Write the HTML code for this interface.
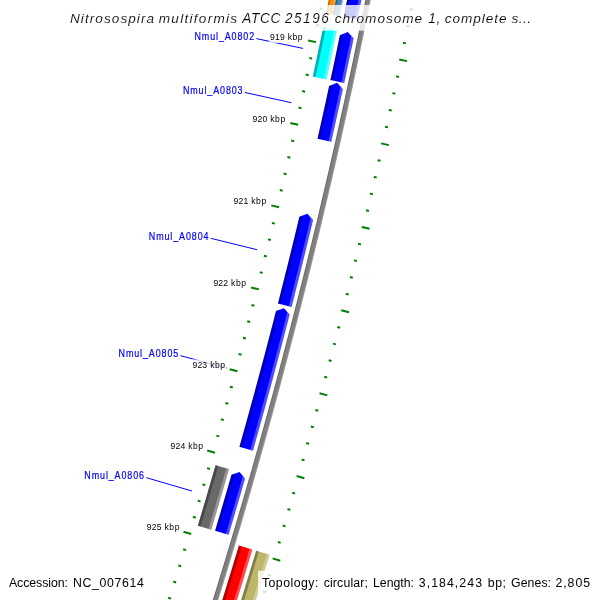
<!DOCTYPE html>
<html><head><meta charset="utf-8"><title>CGView map</title>
<style>
html,body{margin:0;padding:0;background:#fff;}
body{width:600px;height:600px;overflow:hidden;}
svg{display:block;will-change:transform;}
text{font-family:"Liberation Sans",sans-serif;}
.lab{font-size:10.4px;fill:#0000ff;stroke:#0000ff;stroke-width:0.2px;}
.tk{font-size:8.6px;fill:#000;}
.title{font-size:13.6px;font-style:italic;fill:#000;stroke:#fff;stroke-width:0.12px;}
.leg{font-size:12.3px;fill:#000;}
</style></head><body>
<svg width="600" height="600" viewBox="0 0 600 600">
<rect width="600" height="600" fill="#fff"/>
<path d="M372.06,-7.12 L370.50,0.73 L368.92,8.58 L367.34,16.42 L365.74,24.27 L364.14,32.11 L362.52,39.95 L360.90,47.78 L359.26,55.62 L357.61,63.45 L355.95,71.28 L354.29,79.11 L352.61,86.94 L350.92,94.76 L349.22,102.58 L347.51,110.40 L345.79,118.22 L344.06,126.03 L342.32,133.85 L340.57,141.66 L338.80,149.47 L337.03,157.27 L335.25,165.07 L333.46,172.87 L331.65,180.67 L329.84,188.47 L328.01,196.26 L326.18,204.05 L324.33,211.84 L322.48,219.63 L320.61,227.41 L318.74,235.19 L316.85,242.97 L314.95,250.75 L313.05,258.52 L311.13,266.29 L309.20,274.06 L307.26,281.83 L305.31,289.59 L303.35,297.35 L301.38,305.11 L299.40,312.86 L297.41,320.62 L295.41,328.37 L293.40,336.11 L291.38,343.86 L289.35,351.60 L287.31,359.34 L285.26,367.08 L283.19,374.81 L281.12,382.54 L279.04,390.27 L276.94,398.00 L274.84,405.72 L272.73,413.44 L270.60,421.16 L268.47,428.87 L266.32,436.58 L264.17,444.29 L262.00,452.00 L259.83,459.70 L257.64,467.40 L255.45,475.10 L253.24,482.79 L251.02,490.48 L248.80,498.17 L246.56,505.85 L244.31,513.54 L242.05,521.22 L239.78,528.89 L237.51,536.56 L235.22,544.23 L232.92,551.90 L230.61,559.57 L228.29,567.23 L225.96,574.88 L223.62,582.54 L221.27,590.19 L218.91,597.84 L216.54,605.48 L214.16,613.13 L211.77,620.76 L209.37,628.40 L204.41,626.84 L206.81,619.21 L209.20,611.58 L211.58,603.94 L213.95,596.30 L216.30,588.66 L218.65,581.02 L220.99,573.37 L223.32,565.72 L225.63,558.06 L227.94,550.40 L230.24,542.74 L232.52,535.08 L234.80,527.41 L237.06,519.75 L239.32,512.07 L241.57,504.40 L243.80,496.72 L246.03,489.04 L248.24,481.35 L250.45,473.67 L252.64,465.98 L254.82,458.28 L257.00,450.59 L259.16,442.89 L261.31,435.18 L263.46,427.48 L265.59,419.77 L267.71,412.06 L269.82,404.35 L271.93,396.63 L274.02,388.91 L276.10,381.19 L278.17,373.47 L280.23,365.74 L282.28,358.01 L284.32,350.28 L286.35,342.54 L288.37,334.80 L290.38,327.06 L292.38,319.32 L294.37,311.57 L296.34,303.83 L298.31,296.07 L300.27,288.32 L302.22,280.56 L304.15,272.80 L306.08,265.04 L308.00,257.28 L309.90,249.51 L311.80,241.74 L313.68,233.97 L315.56,226.20 L317.42,218.42 L319.28,210.64 L321.12,202.86 L322.95,195.07 L324.77,187.29 L326.59,179.50 L328.39,171.71 L330.18,163.91 L331.96,156.12 L333.73,148.32 L335.49,140.52 L337.24,132.71 L338.98,124.91 L340.71,117.10 L342.43,109.29 L344.14,101.48 L345.84,93.66 L347.52,85.84 L349.20,78.02 L350.87,70.20 L352.52,62.38 L354.17,54.55 L355.80,46.73 L357.43,38.89 L359.04,31.06 L360.65,23.23 L362.24,15.39 L363.82,7.55 L365.40,-0.29 L366.96,-8.13Z" fill="#808080"/>
<path d="M372.06,-7.12 L370.50,0.73 L368.92,8.58 L367.34,16.42 L365.74,24.27 L364.14,32.11 L362.52,39.95 L360.90,47.78 L359.26,55.62 L357.61,63.45 L355.95,71.28 L354.29,79.11 L352.61,86.94 L350.92,94.76 L349.22,102.58 L347.51,110.40 L345.79,118.22 L344.06,126.03 L342.32,133.85 L340.57,141.66 L338.80,149.47 L337.03,157.27 L335.25,165.07 L333.46,172.87 L331.65,180.67 L329.84,188.47 L328.01,196.26 L326.18,204.05 L324.33,211.84 L322.48,219.63 L320.61,227.41 L318.74,235.19 L316.85,242.97 L314.95,250.75 L313.05,258.52 L311.13,266.29 L309.20,274.06 L307.26,281.83 L305.31,289.59 L303.35,297.35 L301.38,305.11 L299.40,312.86 L297.41,320.62 L295.41,328.37 L293.40,336.11 L291.38,343.86 L289.35,351.60 L287.31,359.34 L285.26,367.08 L283.19,374.81 L281.12,382.54 L279.04,390.27 L276.94,398.00 L274.84,405.72 L272.73,413.44 L270.60,421.16 L268.47,428.87 L266.32,436.58 L264.17,444.29 L262.00,452.00 L259.83,459.70 L257.64,467.40 L255.45,475.10 L253.24,482.79 L251.02,490.48 L248.80,498.17 L246.56,505.85 L244.31,513.54 L242.05,521.22 L239.78,528.89 L237.51,536.56 L235.22,544.23 L232.92,551.90 L230.61,559.57 L228.29,567.23 L225.96,574.88 L223.62,582.54 L221.27,590.19 L218.91,597.84 L216.54,605.48 L214.16,613.13 L211.77,620.76 L209.37,628.40 L208.42,628.10 L210.82,620.47 L213.21,612.83 L215.59,605.19 L217.96,597.54 L220.32,589.90 L222.67,582.25 L225.01,574.59 L227.33,566.94 L229.65,559.28 L231.96,551.61 L234.26,543.95 L236.55,536.28 L238.83,528.61 L241.09,520.93 L243.35,513.25 L245.60,505.57 L247.83,497.89 L250.06,490.20 L252.28,482.51 L254.48,474.82 L256.68,467.12 L258.87,459.43 L261.04,451.72 L263.21,444.02 L265.36,436.31 L267.50,428.60 L269.64,420.89 L271.76,413.17 L273.88,405.46 L275.98,397.73 L278.07,390.01 L280.16,382.28 L282.23,374.55 L284.29,366.82 L286.34,359.08 L288.38,351.35 L290.41,343.61 L292.44,335.86 L294.45,328.12 L296.45,320.37 L298.44,312.62 L300.42,304.86 L302.38,297.11 L304.34,289.35 L306.29,281.58 L308.23,273.82 L310.16,266.05 L312.07,258.28 L313.98,250.51 L315.88,242.74 L317.76,234.96 L319.64,227.18 L321.51,219.40 L323.36,211.61 L325.21,203.82 L327.04,196.03 L328.86,188.24 L330.68,180.45 L332.48,172.65 L334.27,164.85 L336.06,157.05 L337.83,149.24 L339.59,141.44 L341.34,133.63 L343.08,125.82 L344.81,118.00 L346.53,110.19 L348.24,102.37 L349.94,94.55 L351.63,86.73 L353.31,78.90 L354.98,71.08 L356.63,63.25 L358.28,55.41 L359.92,47.58 L361.54,39.75 L363.16,31.91 L364.76,24.07 L366.36,16.22 L367.94,8.38 L369.52,0.53 L371.08,-7.31Z" fill="#fff" fill-opacity="0.2"/>
<path d="M367.84,-7.96 L366.28,-0.11 L364.71,7.73 L363.12,15.57 L361.53,23.41 L359.93,31.24 L358.31,39.08 L356.69,46.91 L355.05,54.74 L353.40,62.57 L351.75,70.39 L350.08,78.21 L348.40,86.03 L346.72,93.85 L345.02,101.67 L343.31,109.48 L341.59,117.29 L339.86,125.10 L338.12,132.91 L336.37,140.71 L334.61,148.52 L332.84,156.32 L331.06,164.11 L329.27,171.91 L327.46,179.70 L325.65,187.49 L323.83,195.28 L321.99,203.06 L320.15,210.85 L318.30,218.63 L316.43,226.41 L314.56,234.18 L312.67,241.96 L310.78,249.73 L308.87,257.49 L306.95,265.26 L305.03,273.02 L303.09,280.78 L301.14,288.54 L299.19,296.30 L297.22,304.05 L295.24,311.80 L293.25,319.54 L291.25,327.29 L289.24,335.03 L287.22,342.77 L285.19,350.51 L283.15,358.24 L281.10,365.97 L279.04,373.70 L276.97,381.43 L274.89,389.15 L272.80,396.87 L270.69,404.59 L268.58,412.30 L266.46,420.01 L264.32,427.72 L262.18,435.43 L260.03,443.13 L257.86,450.83 L255.69,458.53 L253.51,466.22 L251.31,473.91 L249.11,481.60 L246.89,489.29 L244.67,496.97 L242.43,504.65 L240.18,512.33 L237.93,520.00 L235.66,527.67 L233.39,535.34 L231.10,543.00 L228.80,550.66 L226.49,558.32 L224.18,565.98 L221.85,573.63 L219.51,581.28 L217.16,588.92 L214.81,596.57 L212.44,604.21 L210.06,611.84 L207.67,619.48 L205.27,627.11 L204.41,626.84 L206.81,619.21 L209.20,611.58 L211.58,603.94 L213.95,596.30 L216.30,588.66 L218.65,581.02 L220.99,573.37 L223.32,565.72 L225.63,558.06 L227.94,550.40 L230.24,542.74 L232.52,535.08 L234.80,527.41 L237.06,519.75 L239.32,512.07 L241.57,504.40 L243.80,496.72 L246.03,489.04 L248.24,481.35 L250.45,473.67 L252.64,465.98 L254.82,458.28 L257.00,450.59 L259.16,442.89 L261.31,435.18 L263.46,427.48 L265.59,419.77 L267.71,412.06 L269.82,404.35 L271.93,396.63 L274.02,388.91 L276.10,381.19 L278.17,373.47 L280.23,365.74 L282.28,358.01 L284.32,350.28 L286.35,342.54 L288.37,334.80 L290.38,327.06 L292.38,319.32 L294.37,311.57 L296.34,303.83 L298.31,296.07 L300.27,288.32 L302.22,280.56 L304.15,272.80 L306.08,265.04 L308.00,257.28 L309.90,249.51 L311.80,241.74 L313.68,233.97 L315.56,226.20 L317.42,218.42 L319.28,210.64 L321.12,202.86 L322.95,195.07 L324.77,187.29 L326.59,179.50 L328.39,171.71 L330.18,163.91 L331.96,156.12 L333.73,148.32 L335.49,140.52 L337.24,132.71 L338.98,124.91 L340.71,117.10 L342.43,109.29 L344.14,101.48 L345.84,93.66 L347.52,85.84 L349.20,78.02 L350.87,70.20 L352.52,62.38 L354.17,54.55 L355.80,46.73 L357.43,38.89 L359.04,31.06 L360.65,23.23 L362.24,15.39 L363.82,7.55 L365.40,-0.29 L366.96,-8.13Z" fill="#000" fill-opacity="0.2"/>
<clipPath id="c1"><path d="M363.13,-8.89 L361.73,-1.82 L360.31,5.25 L358.88,12.33 L357.45,19.39 L343.73,16.60 L345.16,9.55 L346.58,2.50 L348.00,-4.56 L349.40,-11.62Z"/></clipPath>
<path d="M363.13,-8.89 L361.73,-1.82 L360.31,5.25 L358.88,12.33 L357.45,19.39 L343.73,16.60 L345.16,9.55 L346.58,2.50 L348.00,-4.56 L349.40,-11.62Z" fill="#0000ff"/>
<g clip-path="url(#c1)"><path d="M364.28,-9.53 L362.79,-2.04 L361.29,5.45 L359.78,12.94 L358.26,20.43 L354.54,19.67 L356.05,12.19 L357.56,4.70 L359.06,-2.78 L360.55,-10.27Z" fill="#fff" fill-opacity="0.3"/><path d="M352.31,-11.91 L350.83,-4.43 L349.33,3.05 L347.82,10.52 L346.30,17.99 L342.58,17.24 L344.10,9.77 L345.60,2.30 L347.10,-5.17 L348.59,-12.65Z" fill="#000" fill-opacity="0.3"/></g>
<clipPath id="c2"><path d="M338.61,-13.76 L337.19,-6.63 L335.77,0.49 L334.33,7.62 L332.88,14.74 L326.02,13.35 L327.47,6.23 L328.90,-0.88 L330.33,-8.00 L331.75,-15.12Z"/></clipPath>
<path d="M338.61,-13.76 L337.19,-6.63 L335.77,0.49 L334.33,7.62 L332.88,14.74 L326.02,13.35 L327.47,6.23 L328.90,-0.88 L330.33,-8.00 L331.75,-15.12Z" fill="#ff8c00"/>
<g clip-path="url(#c2)"><path d="M339.76,-14.40 L338.26,-6.85 L336.75,0.69 L335.22,8.23 L333.69,15.77 L331.34,15.29 L332.87,7.76 L334.39,0.22 L335.90,-7.32 L337.40,-14.86Z" fill="#fff" fill-opacity="0.3"/><path d="M333.28,-15.68 L331.78,-8.14 L330.28,-0.61 L328.76,6.92 L327.23,14.45 L324.88,13.98 L326.40,6.45 L327.92,-1.08 L329.43,-8.61 L330.93,-16.15Z" fill="#000" fill-opacity="0.3"/></g>
<clipPath id="c3"><path d="M345.48,-12.40 L344.06,-5.26 L342.63,1.87 L341.19,9.01 L339.74,16.14 L332.88,14.74 L334.33,7.62 L335.77,0.49 L337.19,-6.63 L338.61,-13.76Z"/></clipPath>
<path d="M345.48,-12.40 L344.06,-5.26 L342.63,1.87 L341.19,9.01 L339.74,16.14 L332.88,14.74 L334.33,7.62 L335.77,0.49 L337.19,-6.63 L338.61,-13.76Z" fill="#4682b4"/>
<g clip-path="url(#c3)"><path d="M346.62,-13.03 L345.12,-5.48 L343.61,2.07 L342.09,9.62 L340.55,17.17 L338.20,16.69 L339.73,9.15 L341.26,1.60 L342.77,-5.95 L344.27,-13.50Z" fill="#fff" fill-opacity="0.3"/><path d="M340.15,-14.32 L338.65,-6.77 L337.14,0.77 L335.62,8.31 L334.09,15.85 L331.73,15.37 L333.26,7.84 L334.79,0.30 L336.30,-7.24 L337.80,-14.79Z" fill="#000" fill-opacity="0.3"/></g>
<clipPath id="c4"><path d="M336.92,29.94 L335.45,37.01 L333.98,44.09 L332.51,51.16 L331.02,58.23 L329.52,65.30 L328.02,72.36 L326.50,79.43 L312.82,76.49 L314.33,69.44 L315.83,62.39 L317.32,55.34 L318.80,48.28 L320.28,41.23 L321.75,34.17 L323.20,27.11Z"/></clipPath>
<path d="M336.92,29.94 L335.45,37.01 L333.98,44.09 L332.51,51.16 L331.02,58.23 L329.52,65.30 L328.02,72.36 L326.50,79.43 L312.82,76.49 L314.33,69.44 L315.83,62.39 L317.32,55.34 L318.80,48.28 L320.28,41.23 L321.75,34.17 L323.20,27.11Z" fill="#00ffff"/>
<g clip-path="url(#c4)"><path d="M338.07,29.31 L336.56,36.62 L335.04,43.93 L333.51,51.24 L331.97,58.55 L330.42,65.86 L328.87,73.16 L327.30,80.47 L323.59,79.67 L325.15,72.37 L326.71,65.07 L328.25,57.77 L329.79,50.46 L331.32,43.16 L332.84,35.85 L334.35,28.54Z" fill="#fff" fill-opacity="0.3"/><path d="M326.12,26.85 L324.61,34.15 L323.09,41.44 L321.57,48.74 L320.03,56.03 L318.49,63.32 L316.94,70.61 L315.38,77.90 L311.66,77.10 L313.22,69.82 L314.77,62.54 L316.32,55.25 L317.85,47.96 L319.37,40.67 L320.89,33.38 L322.40,26.08Z" fill="#000" fill-opacity="0.3"/></g>
<clipPath id="c5"><path d="M347.73,31.99 L353.60,38.15 L352.05,45.63 L350.49,53.10 L348.92,60.56 L347.34,68.03 L345.75,75.50 L344.16,82.96 L330.47,80.02 L332.06,72.57 L333.65,65.13 L335.22,57.68 L336.79,50.23 L338.34,42.77 L339.89,35.32Z"/></clipPath>
<path d="M347.73,31.99 L353.60,38.15 L352.05,45.63 L350.49,53.10 L348.92,60.56 L347.34,68.03 L345.75,75.50 L344.16,82.96 L330.47,80.02 L332.06,72.57 L333.65,65.13 L335.22,57.68 L336.79,50.23 L338.34,42.77 L339.89,35.32Z" fill="#0000ff"/>
<g clip-path="url(#c5)"><path d="M355.73,32.77 L354.22,40.09 L352.70,47.42 L351.17,54.74 L349.63,62.06 L348.08,69.37 L346.52,76.69 L344.95,84.00 L341.24,83.20 L342.81,75.89 L344.36,68.58 L345.91,61.27 L347.45,53.96 L348.98,46.64 L350.50,39.32 L352.01,32.00Z" fill="#fff" fill-opacity="0.3"/><path d="M343.78,30.31 L342.27,37.62 L340.76,44.93 L339.23,52.23 L337.69,59.54 L336.15,66.84 L334.59,74.14 L333.03,81.44 L329.31,80.64 L330.87,73.34 L332.43,66.05 L333.97,58.75 L335.51,51.45 L337.04,44.15 L338.55,36.85 L340.06,29.54Z" fill="#000" fill-opacity="0.3"/></g>
<clipPath id="c6"><path d="M337.03,82.82 L342.85,89.03 L341.21,96.58 L339.57,104.13 L337.91,111.68 L336.25,119.23 L334.57,126.77 L332.89,134.31 L331.20,141.85 L317.54,138.77 L319.23,131.25 L320.91,123.73 L322.58,116.20 L324.24,108.67 L325.89,101.14 L327.53,93.61 L329.16,86.08Z"/></clipPath>
<path d="M337.03,82.82 L342.85,89.03 L341.21,96.58 L339.57,104.13 L337.91,111.68 L336.25,119.23 L334.57,126.77 L332.89,134.31 L331.20,141.85 L317.54,138.77 L319.23,131.25 L320.91,123.73 L322.58,116.20 L324.24,108.67 L325.89,101.14 L327.53,93.61 L329.16,86.08Z" fill="#0000ff"/>
<g clip-path="url(#c6)"><path d="M345.03,83.67 L343.43,91.08 L341.82,98.49 L340.21,105.89 L338.58,113.30 L336.94,120.70 L335.30,128.10 L333.65,135.50 L331.98,142.90 L328.28,142.06 L329.94,134.67 L331.59,127.28 L333.23,119.88 L334.87,112.48 L336.49,105.08 L338.11,97.68 L339.71,90.28 L341.31,82.87Z" fill="#fff" fill-opacity="0.3"/><path d="M333.10,81.10 L331.50,88.50 L329.90,95.89 L328.29,103.29 L326.66,110.68 L325.03,118.06 L323.39,125.45 L321.74,132.83 L320.08,140.22 L316.38,139.38 L318.03,132.00 L319.68,124.62 L321.32,117.24 L322.95,109.86 L324.58,102.47 L326.19,95.09 L327.79,87.70 L329.38,80.31Z" fill="#000" fill-opacity="0.3"/></g>
<clipPath id="c7"><path d="M307.34,213.72 L313.02,220.06 L311.28,227.31 L309.53,234.56 L307.77,241.80 L306.00,249.04 L304.23,256.28 L302.44,263.52 L300.64,270.76 L298.84,277.99 L297.03,285.22 L295.21,292.45 L293.38,299.67 L291.54,306.90 L277.97,303.43 L279.81,296.23 L281.63,289.02 L283.45,281.81 L285.26,274.59 L287.06,267.38 L288.85,260.16 L290.63,252.94 L292.40,245.72 L294.17,238.49 L295.92,231.26 L297.67,224.04 L299.40,216.80Z"/></clipPath>
<path d="M307.34,213.72 L313.02,220.06 L311.28,227.31 L309.53,234.56 L307.77,241.80 L306.00,249.04 L304.23,256.28 L302.44,263.52 L300.64,270.76 L298.84,277.99 L297.03,285.22 L295.21,292.45 L293.38,299.67 L291.54,306.90 L277.97,303.43 L279.81,296.23 L281.63,289.02 L283.45,281.81 L285.26,274.59 L287.06,267.38 L288.85,260.16 L290.63,252.94 L292.40,245.72 L294.17,238.49 L295.92,231.26 L297.67,224.04 L299.40,216.80Z" fill="#0000ff"/>
<g clip-path="url(#c7)"><path d="M315.32,214.75 L313.45,222.53 L311.58,230.31 L309.70,238.09 L307.81,245.86 L305.91,253.64 L303.99,261.41 L302.07,269.17 L300.13,276.94 L298.19,284.70 L296.24,292.46 L294.27,300.21 L292.30,307.97 L288.61,307.03 L290.59,299.28 L292.55,291.53 L294.51,283.77 L296.45,276.02 L298.38,268.26 L300.30,260.49 L302.22,252.73 L304.12,244.96 L306.01,237.19 L307.89,229.42 L309.76,221.65 L311.62,213.87Z" fill="#fff" fill-opacity="0.3"/><path d="M303.45,211.92 L301.59,219.69 L299.72,227.45 L297.84,235.21 L295.96,242.97 L294.06,250.73 L292.15,258.48 L290.23,266.23 L288.30,273.98 L286.36,281.73 L284.41,289.47 L282.45,297.21 L280.48,304.95 L276.79,304.01 L278.76,296.28 L280.72,288.54 L282.67,280.80 L284.61,273.06 L286.54,265.32 L288.46,257.57 L290.37,249.82 L292.26,242.07 L294.15,234.32 L296.03,226.56 L297.90,218.80 L299.75,211.04Z" fill="#000" fill-opacity="0.3"/></g>
<clipPath id="c8"><path d="M284.00,308.13 L289.57,314.56 L287.62,322.15 L285.66,329.73 L283.69,337.31 L281.71,344.88 L279.72,352.45 L277.71,360.02 L275.70,367.59 L273.68,375.16 L271.65,382.72 L269.61,390.28 L267.56,397.83 L265.50,405.39 L263.43,412.94 L261.35,420.49 L259.26,428.03 L257.16,435.58 L255.05,443.12 L252.93,450.66 L239.45,446.86 L241.57,439.34 L243.67,431.81 L245.77,424.29 L247.85,416.76 L249.93,409.23 L251.99,401.69 L254.05,394.16 L256.10,386.62 L258.13,379.08 L260.16,371.53 L262.17,363.99 L264.18,356.44 L266.18,348.88 L268.17,341.33 L270.14,333.77 L272.11,326.21 L274.07,318.65 L276.01,311.08Z"/></clipPath>
<path d="M284.00,308.13 L289.57,314.56 L287.62,322.15 L285.66,329.73 L283.69,337.31 L281.71,344.88 L279.72,352.45 L277.71,360.02 L275.70,367.59 L273.68,375.16 L271.65,382.72 L269.61,390.28 L267.56,397.83 L265.50,405.39 L263.43,412.94 L261.35,420.49 L259.26,428.03 L257.16,435.58 L255.05,443.12 L252.93,450.66 L239.45,446.86 L241.57,439.34 L243.67,431.81 L245.77,424.29 L247.85,416.76 L249.93,409.23 L251.99,401.69 L254.05,394.16 L256.10,386.62 L258.13,379.08 L260.16,371.53 L262.17,363.99 L264.18,356.44 L266.18,348.88 L268.17,341.33 L270.14,333.77 L272.11,326.21 L274.07,318.65 L276.01,311.08Z" fill="#0000ff"/>
<g clip-path="url(#c8)"><path d="M291.96,309.29 L290.03,316.81 L288.09,324.33 L286.14,331.84 L284.19,339.36 L282.22,346.87 L280.24,354.38 L278.26,361.88 L276.26,369.39 L274.25,376.89 L272.24,384.38 L270.21,391.88 L268.18,399.37 L266.13,406.86 L264.08,414.35 L262.01,421.83 L259.94,429.32 L257.85,436.80 L255.76,444.27 L253.66,451.75 L250.00,450.71 L252.10,443.24 L254.19,435.77 L256.28,428.30 L258.35,420.82 L260.41,413.34 L262.47,405.86 L264.51,398.37 L266.54,390.89 L268.57,383.39 L270.58,375.90 L272.59,368.41 L274.58,360.91 L276.57,353.41 L278.54,345.90 L280.51,338.40 L282.47,330.89 L284.41,323.38 L286.35,315.86 L288.28,308.35Z" fill="#fff" fill-opacity="0.3"/><path d="M280.14,306.27 L278.21,313.77 L276.28,321.27 L274.34,328.78 L272.38,336.27 L270.42,343.77 L268.45,351.26 L266.46,358.75 L264.47,366.24 L262.47,373.73 L260.46,381.21 L258.44,388.69 L256.41,396.17 L254.36,403.64 L252.31,411.11 L250.25,418.58 L248.18,426.05 L246.10,433.51 L244.01,440.97 L241.92,448.43 L238.26,447.40 L240.36,439.95 L242.44,432.49 L244.52,425.03 L246.59,417.57 L248.65,410.10 L250.70,402.64 L252.74,395.17 L254.77,387.69 L256.79,380.22 L258.80,372.74 L260.80,365.26 L262.79,357.78 L264.77,350.29 L266.74,342.80 L268.71,335.31 L270.66,327.82 L272.60,320.32 L274.53,312.83 L276.46,305.32Z" fill="#000" fill-opacity="0.3"/></g>
<clipPath id="c9"><path d="M239.59,471.98 L244.98,478.57 L242.96,485.60 L240.93,492.63 L238.88,499.66 L236.83,506.69 L234.77,513.71 L232.71,520.74 L230.63,527.75 L228.55,534.77 L215.13,530.77 L217.21,523.77 L219.28,516.77 L221.34,509.77 L223.40,502.76 L225.44,495.75 L227.48,488.74 L229.51,481.72 L231.53,474.71Z"/></clipPath>
<path d="M239.59,471.98 L244.98,478.57 L242.96,485.60 L240.93,492.63 L238.88,499.66 L236.83,506.69 L234.77,513.71 L232.71,520.74 L230.63,527.75 L228.55,534.77 L215.13,530.77 L217.21,523.77 L219.28,516.77 L221.34,509.77 L223.40,502.76 L225.44,495.75 L227.48,488.74 L229.51,481.72 L231.53,474.71Z" fill="#0000ff"/>
<g clip-path="url(#c9)"><path d="M247.52,473.36 L245.52,480.32 L243.52,487.27 L241.51,494.22 L239.49,501.17 L237.46,508.11 L235.42,515.06 L233.38,522.00 L231.32,528.94 L229.26,535.87 L225.62,534.79 L227.68,527.86 L229.73,520.92 L231.78,513.99 L233.81,507.05 L235.84,500.11 L237.86,493.16 L239.87,486.22 L241.87,479.27 L243.86,472.32Z" fill="#fff" fill-opacity="0.3"/><path d="M235.79,470.01 L233.80,476.95 L231.80,483.89 L229.79,490.82 L227.77,497.76 L225.75,504.69 L223.72,511.62 L221.68,518.54 L219.63,525.47 L217.57,532.39 L213.93,531.30 L215.98,524.39 L218.03,517.47 L220.07,510.54 L222.10,503.62 L224.13,496.69 L226.14,489.76 L228.15,482.83 L230.14,475.90 L232.13,468.96Z" fill="#000" fill-opacity="0.3"/></g>
<clipPath id="c10"><path d="M229.00,468.99 L226.83,476.58 L224.64,484.17 L222.44,491.75 L220.23,499.34 L218.01,506.91 L215.78,514.49 L213.54,522.06 L211.29,529.63 L197.88,525.64 L200.12,518.09 L202.35,510.53 L204.58,502.97 L206.79,495.41 L208.99,487.85 L211.19,480.28 L213.37,472.71 L215.54,465.14Z"/></clipPath>
<path d="M229.00,468.99 L226.83,476.58 L224.64,484.17 L222.44,491.75 L220.23,499.34 L218.01,506.91 L215.78,514.49 L213.54,522.06 L211.29,529.63 L197.88,525.64 L200.12,518.09 L202.35,510.53 L204.58,502.97 L206.79,495.41 L208.99,487.85 L211.19,480.28 L213.37,472.71 L215.54,465.14Z" fill="#696969"/>
<g clip-path="url(#c10)"><path d="M230.20,468.45 L228.21,475.38 L226.22,482.31 L224.21,489.23 L222.20,496.16 L220.18,503.08 L218.15,509.99 L216.11,516.91 L214.07,523.82 L212.01,530.73 L208.37,529.65 L210.42,522.74 L212.47,515.83 L214.50,508.92 L216.53,502.01 L218.55,495.09 L220.56,488.18 L222.56,481.25 L224.56,474.33 L226.55,467.41Z" fill="#fff" fill-opacity="0.3"/><path d="M218.47,465.10 L216.49,472.01 L214.49,478.92 L212.49,485.83 L210.49,492.74 L208.47,499.65 L206.44,506.55 L204.41,513.45 L202.37,520.35 L200.32,527.25 L196.68,526.16 L198.73,519.27 L200.77,512.38 L202.80,505.48 L204.82,498.58 L206.84,491.68 L208.84,484.78 L210.84,477.87 L212.83,470.96 L214.82,464.05Z" fill="#000" fill-opacity="0.3"/></g>
<clipPath id="c11"><path d="M252.33,549.48 L250.03,557.16 L247.72,564.84 L245.39,572.51 L243.06,580.18 L240.72,587.85 L238.36,595.51 L236.00,603.17 L233.63,610.83 L231.24,618.48 L228.85,626.13 L226.44,633.78 L213.09,629.57 L215.49,621.94 L217.88,614.31 L220.26,606.67 L222.63,599.03 L224.98,591.39 L227.33,583.74 L229.67,576.10 L232.00,568.44 L234.32,560.79 L236.62,553.13 L238.92,545.47Z"/></clipPath>
<path d="M252.33,549.48 L250.03,557.16 L247.72,564.84 L245.39,572.51 L243.06,580.18 L240.72,587.85 L238.36,595.51 L236.00,603.17 L233.63,610.83 L231.24,618.48 L228.85,626.13 L226.44,633.78 L213.09,629.57 L215.49,621.94 L217.88,614.31 L220.26,606.67 L222.63,599.03 L224.98,591.39 L227.33,583.74 L229.67,576.10 L232.00,568.44 L234.32,560.79 L236.62,553.13 L238.92,545.47Z" fill="#ff0000"/>
<g clip-path="url(#c11)"><path d="M253.54,548.95 L251.39,556.13 L249.23,563.30 L247.06,570.47 L244.88,577.64 L242.69,584.81 L240.50,591.97 L238.29,599.13 L236.08,606.29 L233.86,613.45 L231.63,620.60 L229.39,627.75 L227.14,634.90 L223.52,633.75 L225.76,626.61 L228.00,619.47 L230.23,612.32 L232.45,605.17 L234.66,598.01 L236.87,590.86 L239.06,583.70 L241.24,576.53 L243.42,569.37 L245.59,562.20 L247.75,555.03 L249.90,547.86Z" fill="#fff" fill-opacity="0.3"/><path d="M241.85,545.45 L239.70,552.62 L237.55,559.78 L235.38,566.93 L233.21,574.09 L231.03,581.24 L228.84,588.39 L226.64,595.54 L224.43,602.68 L222.21,609.82 L219.98,616.96 L217.75,624.09 L215.51,631.23 L211.88,630.09 L214.12,622.96 L216.36,615.83 L218.58,608.69 L220.80,601.56 L223.01,594.42 L225.20,587.27 L227.39,580.13 L229.57,572.98 L231.75,565.83 L233.91,558.68 L236.06,551.52 L238.21,544.36Z" fill="#000" fill-opacity="0.3"/></g>
<clipPath id="c12"><path d="M269.58,554.64 L267.27,562.34 L264.95,570.04 L262.62,577.74 L260.28,585.43 L257.93,593.12 L255.57,600.80 L253.20,608.49 L250.82,616.17 L248.43,623.85 L246.02,631.52 L243.61,639.19 L230.26,634.98 L232.67,627.33 L235.06,619.67 L237.45,612.01 L239.82,604.35 L242.19,596.69 L244.54,589.02 L246.89,581.35 L249.22,573.67 L251.55,565.99 L253.86,558.31 L256.17,550.63Z"/></clipPath>
<path d="M269.58,554.64 L267.27,562.34 L264.95,570.04 L262.62,577.74 L260.28,585.43 L257.93,593.12 L255.57,600.80 L253.20,608.49 L250.82,616.17 L248.43,623.85 L246.02,631.52 L243.61,639.19 L230.26,634.98 L232.67,627.33 L235.06,619.67 L237.45,612.01 L239.82,604.35 L242.19,596.69 L244.54,589.02 L246.89,581.35 L249.22,573.67 L251.55,565.99 L253.86,558.31 L256.17,550.63Z" fill="#bdb76b"/>
<g clip-path="url(#c12)"><path d="M270.78,554.10 L268.62,561.30 L266.46,568.50 L264.28,575.69 L262.10,582.88 L259.91,590.07 L257.71,597.26 L255.50,604.44 L253.28,611.62 L251.05,618.79 L248.81,625.97 L246.56,633.14 L244.31,640.31 L240.68,639.17 L242.94,632.00 L245.18,624.84 L247.42,617.67 L249.65,610.49 L251.86,603.32 L254.07,596.14 L256.27,588.96 L258.46,581.78 L260.65,574.59 L262.82,567.40 L264.99,560.21 L267.14,553.01Z" fill="#fff" fill-opacity="0.3"/><path d="M259.09,550.61 L256.94,557.79 L254.78,564.97 L252.61,572.15 L250.43,579.33 L248.24,586.50 L246.04,593.67 L243.84,600.84 L241.62,608.01 L239.40,615.17 L237.17,622.33 L234.92,629.49 L232.67,636.64 L229.05,635.50 L231.30,628.35 L233.54,621.20 L235.77,614.04 L237.99,606.88 L240.21,599.72 L242.41,592.56 L244.61,585.39 L246.79,578.22 L248.97,571.05 L251.14,563.88 L253.30,556.70 L255.45,549.52Z" fill="#000" fill-opacity="0.3"/></g>
<path d="M332.71,-40.81L324.86,-42.33 M416.15,-24.61L424.01,-23.09 M329.17,-24.26L326.23,-24.84 M413.16,-7.71L416.10,-7.13 M325.88,-7.66L322.93,-8.25 M409.81,9.12L412.76,9.71 M322.54,8.92L319.59,8.33 M406.43,25.95L409.37,26.54 M319.15,25.50L316.21,24.89 M402.99,42.76L405.93,43.37 M316.01,42.13L308.17,40.49 M399.21,59.50L407.04,61.14 M312.23,58.62L309.29,58.00 M395.97,76.36L398.91,76.98 M308.70,75.17L305.77,74.54 M392.39,93.14L395.33,93.77 M305.12,91.71L302.19,91.07 M388.76,109.92L391.70,110.56 M301.50,108.23L298.57,107.59 M385.09,126.68L388.02,127.33 M298.12,124.81L290.32,123.07 M381.07,143.37L388.88,145.12 M294.11,141.25L291.19,140.59 M377.60,160.18L380.52,160.84 M290.35,157.75L287.43,157.08 M373.78,176.91L376.70,177.58 M286.54,174.23L283.62,173.55 M369.91,193.63L372.83,194.31 M282.68,190.71L279.76,190.02 M366.00,210.34L368.92,211.03 M279.07,207.24L271.29,205.38 M361.75,226.97L369.53,228.83 M274.83,223.62L271.91,222.91 M358.03,243.73L360.95,244.43 M270.83,240.06L267.92,239.35 M353.98,260.40L356.89,261.12 M266.78,256.49L263.87,255.77 M349.87,277.07L352.79,277.79 M262.69,272.90L259.78,272.17 M345.72,293.72L348.63,294.45 M258.85,289.38L251.09,287.42 M341.24,310.29L348.99,312.25 M254.37,305.70L251.47,304.96 M337.28,326.99L340.19,327.74 M250.14,322.08L247.24,321.33 M332.99,343.61L335.90,344.36 M245.86,338.45L242.96,337.69 M328.65,360.21L331.55,360.97 M241.54,354.81L238.64,354.04 M324.27,376.80L327.17,377.57 M237.46,371.23L229.73,369.16 M319.54,393.30L327.27,395.38 M232.75,387.49L229.86,386.70 M315.35,409.95L318.25,410.74 M228.29,403.81L225.40,403.01 M310.83,426.50L313.72,427.30 M223.78,420.11L220.89,419.31 M306.25,443.04L309.14,443.85 M219.23,436.41L216.34,435.60 M301.63,459.57L304.52,460.38 M214.91,452.77L207.22,450.58 M296.68,476.01L304.37,478.19 M209.98,468.96L207.09,468.13 M292.25,492.59L295.13,493.42 M205.28,485.21L202.40,484.37 M287.49,509.08L290.37,509.91 M200.54,501.45L197.66,500.61 M282.68,525.55L285.56,526.40 M195.76,517.68L192.88,516.83 M277.82,542.01L280.70,542.87 M191.21,533.98L183.55,531.68 M272.64,558.37L280.30,560.67 M186.04,550.09L183.17,549.23 M267.97,574.89L270.85,575.76 M181.12,566.28L178.25,565.40 M262.98,591.31L265.85,592.19 M176.15,582.45L173.28,581.57 M257.94,607.72L260.80,608.60 M171.13,598.61L168.27,597.72 M252.85,624.11L255.71,625.00 M166.36,614.84L158.73,612.44 M247.43,640.39L255.06,642.80 M160.96,630.88L158.10,629.97 M242.53,656.84L245.39,657.75" stroke="#008000" stroke-width="2" fill="none"/>
<line x1="303.04" y1="48.43" x2="256.46" y2="38.63" stroke="#0000ff" stroke-width="1"/>
<line x1="291.35" y1="102.71" x2="244.87" y2="92.47" stroke="#0000ff" stroke-width="1"/>
<line x1="257.02" y1="249.72" x2="210.81" y2="238.31" stroke="#0000ff" stroke-width="1"/>
<line x1="226.52" y1="368.03" x2="180.55" y2="355.67" stroke="#0000ff" stroke-width="1"/>
<line x1="192.03" y1="491.03" x2="146.33" y2="477.69" stroke="#0000ff" stroke-width="1"/>
<rect x="269.27" y="31.39" width="34.50" height="11.5" fill="#fff" fill-opacity="0.8"/>
<rect x="251.82" y="113.37" width="34.50" height="11.5" fill="#fff" fill-opacity="0.8"/>
<rect x="232.79" y="195.68" width="34.50" height="11.5" fill="#fff" fill-opacity="0.8"/>
<rect x="212.59" y="277.72" width="34.50" height="11.5" fill="#fff" fill-opacity="0.8"/>
<rect x="191.63" y="359.46" width="34.50" height="11.5" fill="#fff" fill-opacity="0.8"/>
<rect x="169.72" y="440.88" width="34.50" height="11.5" fill="#fff" fill-opacity="0.8"/>
<rect x="146.05" y="521.98" width="34.50" height="11.5" fill="#fff" fill-opacity="0.8"/>
<g class="tg"><text transform="translate(254.16,40.13) scale(0.86,1)" x="0" y="0" text-anchor="end" textLength="69.42" lengthAdjust="spacing" class="lab">Nmul_A0802</text>
<text transform="translate(242.57,93.97) scale(0.86,1)" x="0" y="0" text-anchor="end" textLength="69.42" lengthAdjust="spacing" class="lab">Nmul_A0803</text>
<text transform="translate(208.51,239.81) scale(0.86,1)" x="0" y="0" text-anchor="end" textLength="69.42" lengthAdjust="spacing" class="lab">Nmul_A0804</text>
<text transform="translate(178.25,357.17) scale(0.86,1)" x="0" y="0" text-anchor="end" textLength="69.42" lengthAdjust="spacing" class="lab">Nmul_A0805</text>
<text transform="translate(144.03,479.19) scale(0.86,1)" x="0" y="0" text-anchor="end" textLength="69.42" lengthAdjust="spacing" class="lab">Nmul_A0806</text>
<text x="270.07 275.02 279.97" y="39.89" class="tk">919</text><text x="287.77 292.57 297.87" y="39.89" class="tk">kbp</text>
<text x="252.62 257.57 262.52" y="121.87" class="tk">920</text><text x="270.32 275.12 280.42" y="121.87" class="tk">kbp</text>
<text x="233.59 238.54 243.49" y="204.18" class="tk">921</text><text x="251.29 256.09 261.39" y="204.18" class="tk">kbp</text>
<text x="213.39 218.34 223.29" y="286.22" class="tk">922</text><text x="231.09 235.89 241.19" y="286.22" class="tk">kbp</text>
<text x="192.43 197.38 202.33" y="367.96" class="tk">923</text><text x="210.13 214.93 220.23" y="367.96" class="tk">kbp</text>
<text x="170.52 175.47 180.42" y="449.38" class="tk">924</text><text x="188.22 193.02 198.32" y="449.38" class="tk">kbp</text>
<text x="146.85 151.80 156.75" y="530.48" class="tk">925</text><text x="164.55 169.35 174.65" y="530.48" class="tk">kbp</text></g>
<rect x="66" y="5" width="469" height="25.7" fill="#fff" fill-opacity="0.8"/>
<g class="tg"><text transform="translate(0,23) scale(1,1.0)" x="69.99" y="0" class="title" textLength="84.07" lengthAdjust="spacing">Nitrosospira</text><text transform="translate(0,23) scale(1,1.0)" x="158.73" y="0" class="title" textLength="78.39" lengthAdjust="spacing">multiformis</text><text transform="translate(0,23) scale(1,1.1)" x="242.28" y="0" class="title" textLength="38.11" lengthAdjust="spacing">ATCC</text><text transform="translate(0,23) scale(1,1.1)" x="284.93" y="0" class="title" textLength="43.98" lengthAdjust="spacing">25196</text><text transform="translate(0,23) scale(1,1.0)" x="334.78" y="0" class="title" textLength="87.3" lengthAdjust="spacing">chromosome</text><text transform="translate(0,23) scale(1,1.1)" x="428.19" y="0" class="title" textLength="12.09" lengthAdjust="spacing">1,</text><text transform="translate(0,23) scale(1,1.0)" x="444.78" y="0" class="title" textLength="61.76" lengthAdjust="spacing">complete</text><text transform="translate(0,23) scale(1,1.0)" x="511.43" y="0" class="title" textLength="19.55" lengthAdjust="spacing">s...</text></g>
<rect x="258" y="570.8" width="342" height="30" fill="#fff" fill-opacity="0.8"/>
<g class="tg"><text x="8.92" y="587" class="leg" textLength="59.07" lengthAdjust="spacing">Accession:</text><text x="73.0" y="587" class="leg" textLength="70.94" lengthAdjust="spacing">NC_007614</text><text x="261.92" y="587" class="leg" textLength="56.44" lengthAdjust="spacing">Topology:</text><text x="323.67" y="587" class="leg" textLength="44.3" lengthAdjust="spacing">circular;</text><text x="373.0" y="587" class="leg" textLength="41.03" lengthAdjust="spacing">Length:</text><text x="418.79" y="587" class="leg" textLength="63.21" lengthAdjust="spacing">3,184,243</text><text x="487.78" y="587" class="leg" textLength="18.25" lengthAdjust="spacing">bp;</text><text x="511.06" y="587" class="leg" textLength="39.96" lengthAdjust="spacing">Genes:</text><text x="555.41" y="587" class="leg" textLength="34.66" lengthAdjust="spacing">2,805</text></g>
</svg>
</body></html>
